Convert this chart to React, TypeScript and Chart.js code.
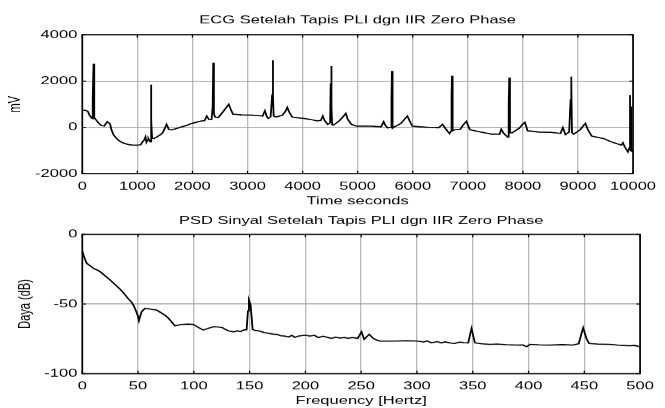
import React, { useEffect, useRef } from "react";
import { Chart, registerables } from "chart.js";

Chart.register(...registerables);

// ---------------- ECG (top plot) ----------------
const ecgTime = [
  0, 50, 100, 130, 170, 185, 195, 205, 213, 222, 250, 300, 350, 400, 430, 455, 480, 505, 530, 570, 620, 660, 720, 780, 850, 920, 1000, 1060,
  1093, 1120, 1148, 1165, 1183, 1200, 1232, 1243, 1252, 1259, 1268, 1300, 1350, 1400, 1452, 1495, 1530, 1550, 1570, 1620, 1720, 1800, 1900, 1989, 2080, 2168, 2220, 2260, 2300, 2348,
  2368, 2378, 2386, 2394, 2410, 2468, 2557, 2620, 2659, 2700, 2736, 2800, 2900, 3065, 3200, 3274, 3316, 3350, 3376, 3420,
  3448, 3458, 3466, 3474, 3496, 3540, 3634, 3690, 3722, 3760, 3812, 3900, 4022, 4150, 4260, 4330, 4367, 4400, 4457, 4500,
  4510, 4520, 4528, 4536, 4558, 4648, 4720, 4785, 4820, 4887, 4976, 5100, 5246, 5424, 5472, 5500, 5543, 5600,
  5614, 5622, 5630, 5638, 5664, 5784, 5860, 5902, 5950, 5992, 6100, 6300, 6470, 6541, 6610, 6667, 6700,
  6705, 6712, 6720, 6728, 6757, 6860, 6930, 6975, 7005, 7038, 7200, 7427, 7577, 7606, 7650, 7724,
  7742, 7752, 7760, 7770, 7804, 7935, 8000, 8035, 8060, 8085, 8300, 8500, 8682, 8725, 8773, 8840,
  8866, 8875, 8883, 8891, 8922, 9041, 9100, 9135, 9180, 9250, 9459, 9600, 9787, 9817, 9850, 9907, 9928,
  9940, 9950, 9958, 9965, 9972, 9985, 10000,
];
const ecgMv = [
  750, 740, 700, 540, 400, 380, 1300, 2750, 1500, 420, 330, 175, 80, 60, 180, 245, 200, 150, -110, -330, -470, -560, -650, -700, -745, -766, -766, -750,
  -623, -560, -407, -640, -560, -476, -623, 200, 1850, 300, -476, -476, -420, -340, -260, -60, 130, 40, -87, -110, -43, 20, 90, 173, 230, 280, 290, 490, 346, 346,
  900, 2800, 2650, 600, 450, 420, 680, 880, 1000, 760, 576, 560, 540, 531, 510, 490, 719, 470, 390, 460,
  1400, 2900, 1400, 500, 462, 460, 531, 700, 860, 650, 447, 420, 390, 340, 286, 300, 490, 300, 130, 200,
  1900, 2650, 900, 120, 100, 245, 420, 606, 350, 130, 56, 60, 58, 26, 243, 100, -20, 0,
  1200, 2440, 600, -30, 20, 172, 380, 490, 250, 58, 30, 0, -12, 130, -100, -263, -150,
  1400, 2230, 700, -140, -100, -86, 150, 260, 80, -100, -180, -290, -290, -86, -250, -420,
  1000, 2150, 1100, -230, -230, -30, 150, 216, 50, -150, -200, -210, -260, -14, -310, -200,
  1200, 2190, 1800, -230, -290, -100, 80, 173, -100, -377, -476, -620, -766, -664, -850, -1056, -900,
  1400, -700, -1000, 900, -900, -1050, -1060,
];
const ecgXTicks = [0, 1000, 2000, 3000, 4000, 5000, 6000, 7000, 8000, 9000, 10000];
const ecgYTicks = [-2000, 0, 2000, 4000];

// ---------------- PSD (bottom plot) ----------------
const psdFreq = [
  0, 2, 4, 7, 10, 13, 16, 20, 25, 30,
  34, 38, 41, 44, 46, 48.5, 50, 50.8, 52, 53.2,
  56, 60, 66.6, 70, 74, 77, 80, 83, 87, 90.5,
  95, 99.5, 104, 108.4, 113, 117.4, 121, 125, 129.4, 132,
  135.4, 139, 142, 144.3, 147.3, 148.5, 149.4, 150.9, 152.7, 155,
  159, 163, 166.7, 170, 175, 178, 181.6, 185, 188, 190.3,
  194, 199.5, 204, 208, 211.5, 216, 220, 223.5, 227, 231,
  235, 238.4, 242, 246.8, 250.3, 252.7, 255, 257.2, 260.8, 263,
  266.8, 272, 280, 290, 301, 306, 309, 313, 318, 322,
  325, 329.5, 333.9, 338.4, 342, 345.9, 348.9, 351.9, 358, 365.4,
  372, 380, 389.3, 395, 398.2, 401.2, 410, 419, 430, 439.9,
  445, 448.9, 452, 454.3, 462, 472.8, 480, 490.7, 495, 500,
];
const psdDb = [
  -12, -17, -20.8, -22.5, -24.4, -25.5, -26.8, -29.5, -32.8, -36.5,
  -39.5, -43, -46, -48.5, -51, -55.6, -59, -62, -58.5, -55.6,
  -53.2, -53.5, -54.4, -56, -58, -60, -62.8, -65.6, -65, -64.7,
  -64.5, -64.7, -66.8, -68.7, -67.5, -66.4, -66.5, -66.8, -68.7, -69.5,
  -70, -69.3, -69.8, -68.7, -68.5, -55, -47.2, -50.8, -68.3, -69,
  -69.5, -70.5, -71, -71.5, -72, -72.8, -73, -73.7, -72.5, -74,
  -73, -72.3, -73, -72.5, -74, -73.2, -74, -74.7, -73.8, -74.5,
  -74, -74.7, -74, -74.7, -70, -75.4, -73.5, -71.8, -74.7, -75.6,
  -76.6, -76.6, -76.6, -76.4, -76.6, -77.3, -76.5, -77.9, -77, -78,
  -77.2, -77.9, -78.3, -77.4, -77.8, -77.9, -67.5, -77.9, -78.5, -79,
  -78.8, -79.3, -79.5, -79.4, -80.7, -79, -79.4, -79.5, -79.2, -79.5,
  -78.5, -67.1, -75, -78.3, -78.8, -79, -79.5, -80, -79.7, -80.7,
];
const psdXTicks = [0, 50, 100, 150, 200, 250, 300, 350, 400, 450, 500];
const psdYTicks = [-100, -50, 0];

// ---------------- rendering ----------------
const SCREEN_W = 665;
const INNER_W = 443;
const DPR = 1.5012;
const FONT = "'Liberation Sans', Arial, Helvetica, sans-serif";
const FS = 11;
const LH = FS * 1.2;

const matlabBox = {
  id: "matlabBox",
  afterDraw(chart: any) {
    const { ctx, chartArea } = chart;
    const { left, right, top, bottom } = chartArea;
    const xs = chart.scales.x;
    const ys = chart.scales.y;
    ctx.save();
    ctx.strokeStyle = "#000";
    ctx.lineWidth = 0.8;
    ctx.beginPath();
    for (const t of xs.ticks) {
      const p = xs.getPixelForValue(t.value);
      ctx.moveTo(p, bottom);
      ctx.lineTo(p, bottom - 3);
      ctx.moveTo(p, top);
      ctx.lineTo(p, top + 3);
    }
    ctx.stroke();
    ctx.lineWidth = 1;
    ctx.beginPath();
    for (const t of ys.ticks) {
      const p = ys.getPixelForValue(t.value);
      ctx.moveTo(left, p);
      ctx.lineTo(left + 2.5, p);
      ctx.moveTo(right, p);
      ctx.lineTo(right - 2.5, p);
    }
    ctx.stroke();
    ctx.lineWidth = 1.1;
    ctx.strokeRect(left, top, right - left, bottom - top);
    ctx.restore();
  },
};

type Spec = {
  title: string;
  xTitle: string;
  yTitle: string;
  xs: number[];
  ys: number[];
  xTicks: number[];
  yTicks: number[];
  canvasH: number;
  areaTop: number;
  areaBottom: number;
  titleCenter: number;
  xTitleCenter: number;
  yTitleCenterX: number;
  xLabelPad: number;
};

const AREA_LEFT = 54.8;
const AREA_RIGHT = 426.4;

function buildConfig(s: Spec): any {
  const titleTop = s.titleCenter - LH / 2;
  const titleBottom = s.areaTop - LH - titleTop;
  const xHeight = s.canvasH - s.areaBottom;
  const xTitlePadBottom = s.canvasH - s.xTitleCenter - LH / 2;
  const font = { family: FONT, size: FS, weight: "normal" as const };
  return {
    type: "line",
    data: {
      datasets: [
        {
          data: s.xs.map((x, i) => ({ x, y: s.ys[i] })),
          borderColor: "#000",
          borderWidth: 1.2,
          pointRadius: 0,
          tension: 0,
          fill: false,
        },
      ],
    },
    options: {
      responsive: false,
      animation: false,
      devicePixelRatio: DPR,
      events: [],
      layout: { padding: { left: 0, right: INNER_W - AREA_RIGHT, top: 0, bottom: 0 } },
      plugins: {
        legend: { display: false },
        tooltip: { enabled: false },
        title: {
          display: true,
          text: s.title,
          color: "#000",
          font,
          fullSize: false,
          padding: { top: titleTop, bottom: titleBottom },
        },
      },
      scales: {
        x: {
          type: "linear",
          min: s.xTicks[0],
          max: s.xTicks[s.xTicks.length - 1],
          afterBuildTicks: (scale: any) => {
            scale.ticks = s.xTicks.map((v) => ({ value: v }));
          },
          afterFit: (scale: any) => {
            scale.height = xHeight;
          },
          ticks: {
            color: "#000",
            font,
            padding: s.xLabelPad,
            autoSkip: false,
            maxRotation: 0,
            minRotation: 0,
            callback: (v: any) => String(v),
          },
          grid: { color: "#a4a4a4", lineWidth: 0.67, drawTicks: false },
          border: { display: false },
          title: {
            display: true,
            text: s.xTitle,
            color: "#000",
            font,
            padding: { top: 0, bottom: xTitlePadBottom },
          },
        },
        y: {
          type: "linear",
          min: s.yTicks[0],
          max: s.yTicks[s.yTicks.length - 1],
          afterBuildTicks: (scale: any) => {
            scale.ticks = s.yTicks.map((v) => ({ value: v }));
          },
          afterFit: (scale: any) => {
            scale.width = AREA_LEFT;
          },
          ticks: {
            color: "#000",
            font,
            padding: 3.3,
            callback: (v: any) => String(v),
          },
          grid: { color: "#a4a4a4", lineWidth: 1, drawTicks: false },
          border: { display: false },
          title: {
            display: true,
            text: s.yTitle,
            color: "#000",
            font,
            padding: { top: s.yTitleCenterX - LH / 2, bottom: 0 },
          },
        },
      },
    },
    plugins: [matlabBox],
  };
}

function Plot({ spec, top }: { spec: Spec; top: number }) {
  const ref = useRef<HTMLCanvasElement>(null);
  useEffect(() => {
    if (!ref.current) return;
    const chart = new Chart(ref.current, buildConfig(spec));
    return () => chart.destroy();
  }, []);
  return (
    <canvas
      ref={ref}
      width={INNER_W}
      height={spec.canvasH}
      style={{ position: "absolute", left: 0, top, width: SCREEN_W, height: spec.canvasH }}
    />
  );
}

const ecgSpec: Spec = {
  title: "ECG Setelah Tapis PLI dgn IIR Zero Phase",
  xTitle: "Time seconds",
  yTitle: "mV",
  xs: ecgTime,
  ys: ecgMv,
  xTicks: ecgXTicks,
  yTicks: ecgYTicks,
  canvasH: 215,
  areaTop: 34.7,
  areaBottom: 173.3,
  titleCenter: 20.5,
  xTitleCenter: 200.5,
  yTitleCenterX: 10,
  xLabelPad: 6,
};

const psdSpec: Spec = {
  title: "PSD Sinyal Setelah Tapis PLI dgn IIR Zero Phase",
  xTitle: "Frequency [Hertz]",
  yTitle: "Daya (dB)",
  xs: psdFreq,
  ys: psdDb,
  xTicks: psdXTicks,
  yTicks: psdYTicks,
  canvasH: 208,
  areaTop: 34.3,
  areaBottom: 173.5,
  titleCenter: 21,
  xTitleCenter: 201,
  yTitleCenterX: 17.2,
  xLabelPad: 6,
};

export default function App() {
  return (
    <div
      style={{
        position: "absolute",
        left: 0,
        top: 0,
        width: SCREEN_W,
        height: 408,
        background: "#fff",
        overflow: "hidden",
      }}
    >
      <Plot spec={ecgSpec} top={0} />
      <Plot spec={psdSpec} top={200} />
    </div>
  );
}
